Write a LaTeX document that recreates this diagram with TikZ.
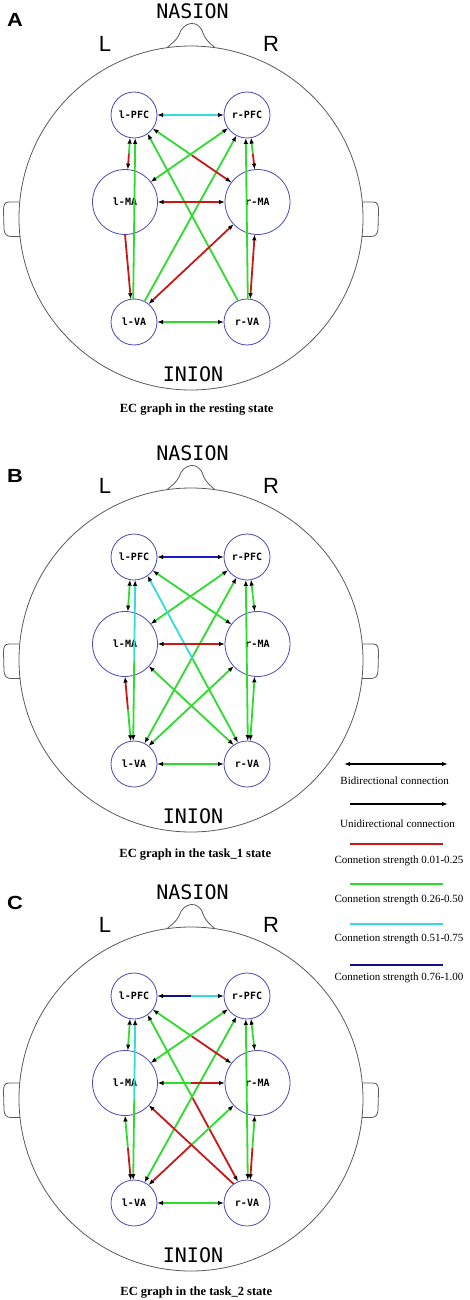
\documentclass[tikz,border=0pt]{standalone}
\usepackage{fontspec}
\setmainfont{Liberation Serif}
\newfontfamily\ecmono{DejaVu Sans Mono}
\newfontfamily\ecsans{Liberation Sans}
\usetikzlibrary{arrows.meta,calc}
\definecolor{ecred}{RGB}{200,25,25}
\definecolor{ecgreen}{RGB}{45,220,45}
\definecolor{eccyan}{RGB}{50,220,220}
\definecolor{ecblue}{RGB}{25,25,200}
\definecolor{ecnavy}{RGB}{15,15,140}
\definecolor{ecnodecol}{RGB}{75,75,185}
\definecolor{echead}{RGB}{90,90,90}

\newcommand\ecbi[4]{%
  \draw[ecedge,draw=#1,->] ($(#3)!0.5!(#4)$) -- (#3);
  \draw[ecedge,draw=#2,->] ($(#3)!0.5!(#4)$) -- (#4);}
\newcommand\ecuni[3]{\draw[ecedge,draw=#1,->] (#2) -- (#3);}

\newcommand\ecpanel[3]{%
\begin{scope}[shift={(0,#2)}]
 \draw[headline] (191,218) circle[radius=172pt];
 \draw[headline] (167,47.7) .. controls (171,44) and (176,41) .. (179,35)
    .. controls (183,21) and (199,19) .. (203,33)
    .. controls (206,41) and (211,44) .. (215,47.7);
 \draw[headline] (19.8,202) -- (9,202) .. controls (4.5,202) and (3.5,205) .. (3.5,210)
    -- (4,229) .. controls (4.3,234) and (6.5,236.5) .. (11,236.5) -- (20.1,236.5);
 \draw[headline] (362.2,202) -- (373,202) .. controls (377.5,202) and (378.5,205) .. (378.5,210)
    -- (378,229) .. controls (377.7,234) and (375.5,236.5) .. (371,236.5) -- (361.9,236.5);
 \node[panellab] (#1lab) at (15,#3) {#1};
 \node[bigmono] (#1nas) at (192.5,11) {NASION};
 \node[bigmono] (#1ini) at (193,374.5) {INION};
 \node[lrtext] (#1L) at (105,44) {L};
 \node[lrtext] (#1R) at (271,44) {R};
 \node[pfcnode] (#1lPFC) at (134,115) {l-PFC};
 \node[pfcnode] (#1rPFC) at (247,115) {r-PFC};
 \node[manode] (#1lMA) at (125,202) {l-MA};
 \node[manode] (#1rMA) at (257.5,202) {r-MA};
 \node[pfcnode] (#1lVA) at (134,322) {l-VA};
 \node[pfcnode] (#1rVA) at (247,322) {r-VA};
\end{scope}}

\begin{document}
\begin{tikzpicture}[x=1pt,y=-1pt,
  >={Latex[length=6pt,width=4.5pt,black]},
  headline/.style={draw=echead,line width=0.8pt},
  ecnode/.style={circle,draw=ecnodecol,line width=0.8pt,inner sep=0pt,outer sep=0pt,
     font=\ecmono\bfseries\fontsize{10}{12}\selectfont},
  pfcnode/.style={ecnode,minimum size=46pt},
  manode/.style={ecnode,minimum size=65pt},
  ecedge/.style={line width=1.8pt},
  panellab/.style={inner sep=0pt,xscale=1.15,font=\ecsans\bfseries\fontsize{19}{22}\selectfont},
  bigmono/.style={inner sep=0pt,font=\ecmono\fontsize{20}{24}\selectfont},
  lrtext/.style={inner sep=0pt,font=\ecsans\fontsize{22}{26}\selectfont},
  captext/.style={anchor=base,inner sep=0pt,font=\bfseries\fontsize{12.5}{15}\selectfont},
  legtext/.style={anchor=base,inner sep=0pt,font=\fontsize{11}{13}\selectfont},
  legline/.style={line width=2pt}]
\useasboundingbox (0,0) rectangle (470,1300);

% ---------- Panel A ----------
\ecpanel{A}{0}{19.7}
\ecbi{eccyan}{eccyan}{AlPFC.0}{ArPFC.180}
\ecbi{ecgreen}{ecred}{AlPFC.-100}{AlMA.85}
\ecuni{ecgreen}{AlVA.92}{AlPFC.-87}
\ecuni{ecred}{AlMA.-90}{AlVA.98}
\ecbi{ecgreen}{ecgreen}{AlMA.38}{ArPFC.215}
\ecuni{ecgreen}{AlVA.63}{ArPFC.243}
\ecbi{ecgreen}{ecred}{AlPFC.-36}{ArMA.143}
\ecuni{ecgreen}{ArVA.113}{AlPFC.-54}
\ecbi{ecred}{ecred}{AlMA.0}{ArMA.180}
\ecbi{ecred}{ecred}{ArMA.-137}{AlVA.51}
\ecbi{ecgreen}{ecred}{ArPFC.-80}{ArMA.95}
\ecuni{ecgreen}{ArVA.88}{ArPFC.-93}
\ecbi{ecred}{ecred}{ArMA.-95}{ArVA.82}
\ecbi{ecgreen}{ecgreen}{AlVA.0}{ArVA.180}
\node[captext] (Acap) at (196.7,412.3) {EC graph in the resting state};

% ---------- Panel B ----------
\ecpanel{B}{442}{34.3}
\ecbi{ecblue}{ecblue}{BlPFC.0}{BrPFC.180}
\ecbi{ecgreen}{ecgreen}{BlPFC.-100}{BlMA.85}
\ecbi{eccyan}{ecgreen}{BlPFC.-87}{BlVA.92}
\ecbi{ecred}{ecgreen}{BlMA.-90}{BlVA.98}
\ecbi{ecgreen}{ecgreen}{BlMA.38}{BrPFC.215}
\ecbi{ecgreen}{ecgreen}{BlVA.63}{BrPFC.243}
\ecbi{ecgreen}{ecgreen}{BlPFC.-36}{BrMA.143}
\ecbi{eccyan}{ecgreen}{BlPFC.-54}{BrVA.113}
\ecbi{ecred}{ecred}{BlMA.0}{BrMA.180}
\ecbi{ecgreen}{ecgreen}{BrMA.-137}{BlVA.51}
\ecbi{ecgreen}{ecgreen}{BlMA.-43}{BrVA.125}
\ecbi{ecgreen}{ecgreen}{BrPFC.-80}{BrMA.95}
\ecbi{ecgreen}{ecgreen}{BrPFC.-93}{BrVA.88}
\ecbi{ecgreen}{ecgreen}{BrMA.-95}{BrVA.82}
\ecbi{ecgreen}{ecgreen}{BlVA.0}{BrVA.180}
\node[captext] (Bcap) at (195.3,857.3) {EC graph in the task\_1 state};

% ---------- Panel C ----------
\ecpanel{C}{881}{21.5}
\ecbi{ecnavy}{eccyan}{ClPFC.0}{CrPFC.180}
\ecbi{ecgreen}{ecgreen}{ClPFC.-100}{ClMA.85}
\ecbi{eccyan}{ecgreen}{ClPFC.-87}{ClVA.92}
\ecbi{ecgreen}{ecred}{ClMA.-90}{ClVA.98}
\ecbi{ecgreen}{ecgreen}{ClMA.38}{CrPFC.215}
\ecbi{ecgreen}{ecgreen}{ClVA.63}{CrPFC.243}
\ecbi{ecgreen}{ecred}{ClPFC.-36}{CrMA.143}
\ecbi{ecgreen}{ecred}{ClPFC.-54}{CrVA.113}
\ecbi{ecgreen}{ecred}{ClMA.0}{CrMA.180}
\ecbi{ecgreen}{ecred}{CrMA.-137}{ClVA.51}
\ecuni{ecred}{CrVA.125}{ClMA.-43}
\ecbi{ecgreen}{ecgreen}{CrPFC.-80}{CrMA.95}
\ecbi{ecgreen}{ecgreen}{CrPFC.-93}{CrVA.88}
\ecbi{ecgreen}{ecred}{CrMA.-95}{CrVA.82}
\ecbi{ecgreen}{ecgreen}{ClVA.0}{CrVA.180}
\node[captext] (Ccap) at (196.3,1295) {EC graph in the task\_2 state};

% ---------- Legend ----------
\coordinate (lgbiA) at (344,764); \coordinate (lgbiB) at (448,764);
\coordinate (lgunA) at (350,804); \coordinate (lgunB) at (448,804);
\coordinate (lgrA) at (350,844); \coordinate (lgrB) at (443,844);
\coordinate (lggA) at (350,884); \coordinate (lggB) at (443,884);
\coordinate (lgcA) at (350,924); \coordinate (lgcB) at (443,924);
\coordinate (lgnA) at (350,965); \coordinate (lgnB) at (443,965);
\draw[legline,black,<->] (lgbiA) -- (lgbiB);
\draw[legline,black,->] (lgunA) -- (lgunB);
\draw[legline,ecred] (lgrA) -- (lgrB);
\draw[legline,ecgreen] (lggA) -- (lggB);
\draw[legline,eccyan] (lgcA) -- (lgcB);
\draw[legline,ecnavy] (lgnA) -- (lgnB);
\node[legtext] (lgt1) at (394.7,784) {Bidirectional connection};
\node[legtext] (lgt2) at (397.5,827) {Unidirectional connection};
\node[legtext] (lgt3) at (399,863.5) {Connetion strength 0.01-0.25};
\node[legtext] (lgt4) at (399,902.7) {Connetion strength 0.26-0.50};
\node[legtext] (lgt5) at (399,941) {Connetion strength 0.51-0.75};
\node[legtext] (lgt6) at (399,980) {Connetion strength 0.76-1.00};
\end{tikzpicture}
\end{document}
